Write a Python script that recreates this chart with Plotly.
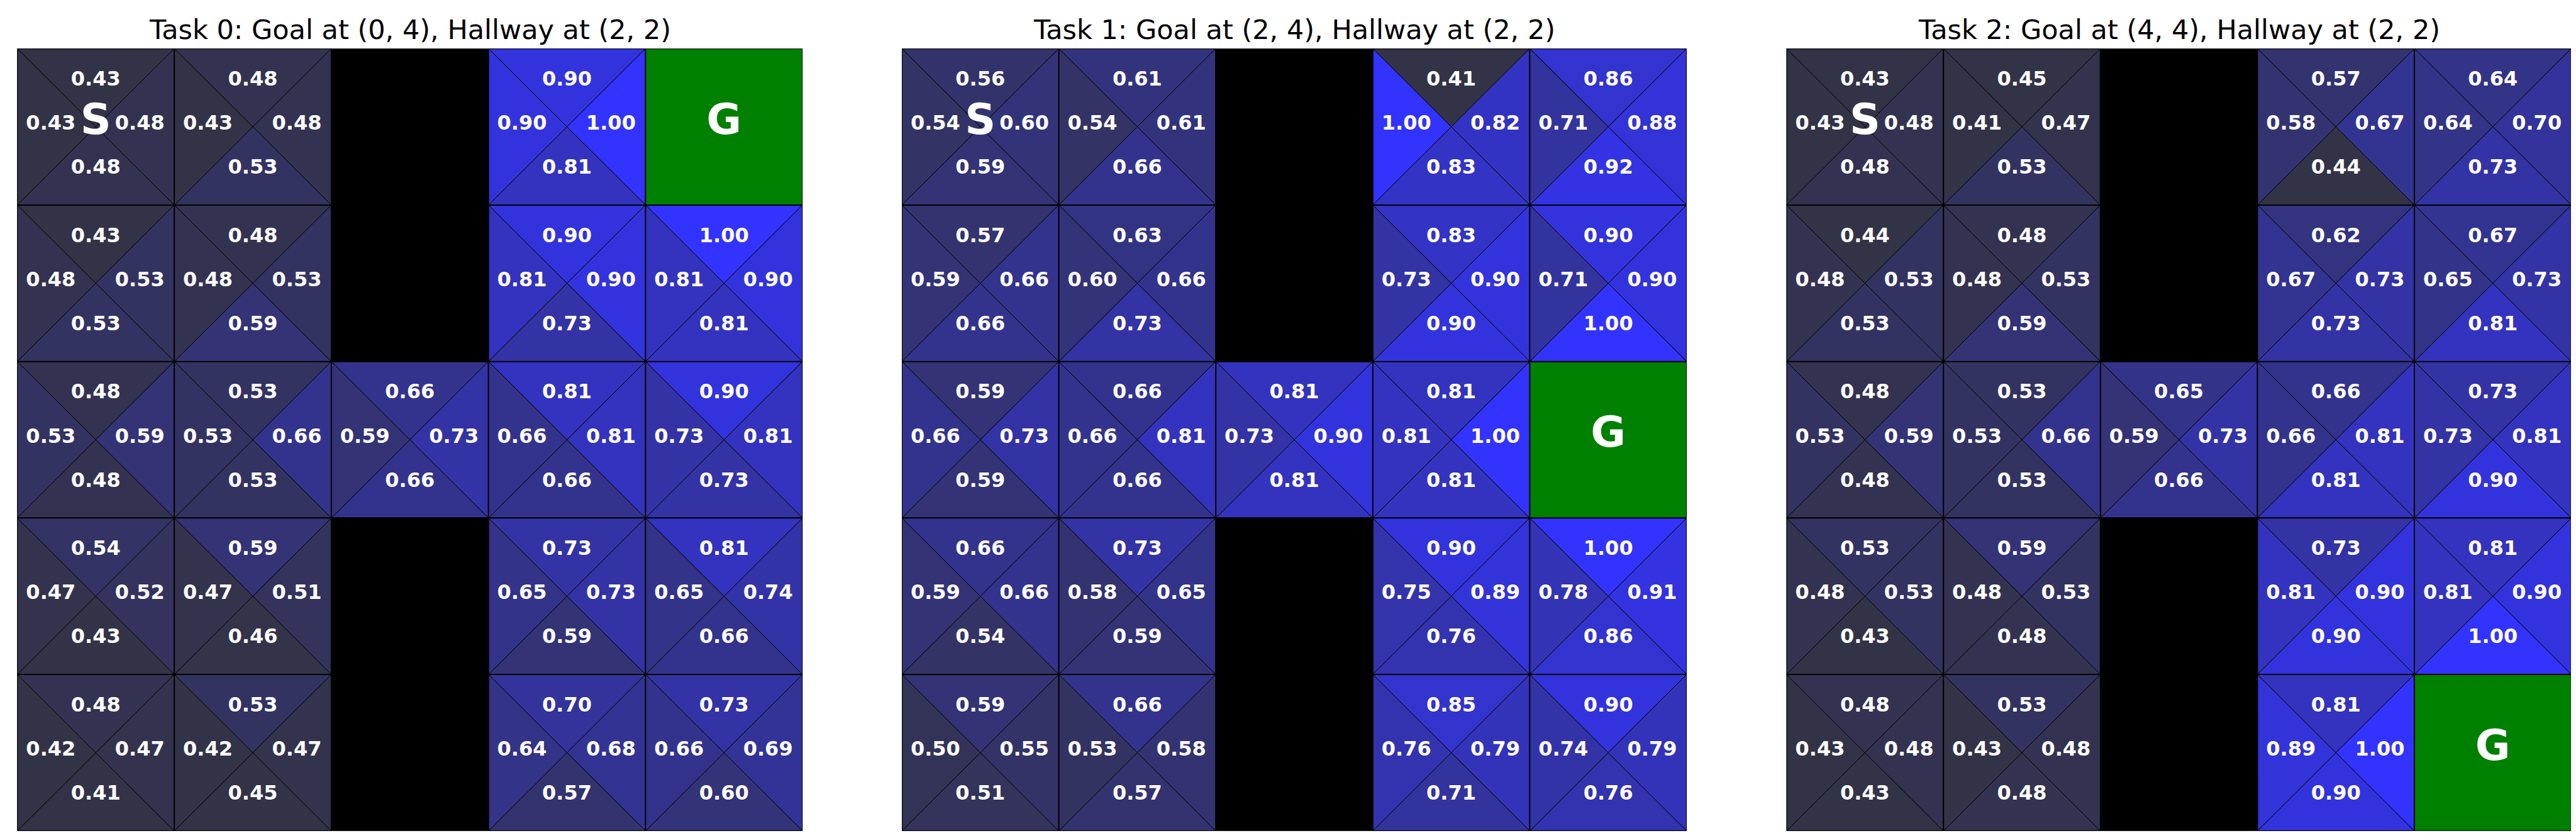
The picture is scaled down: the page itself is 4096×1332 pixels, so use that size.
import plotly.graph_objects as go

# ---------------- data ----------------
TITLES = [
    "Task 0: Goal at (0, 4), Hallway at (2, 2)",
    "Task 1: Goal at (2, 4), Hallway at (2, 2)",
    "Task 2: Goal at (4, 4), Hallway at (2, 2)",
]
WALLS = [(0, 2), (1, 2), (3, 2), (4, 2)]
START = (0, 0)
GOALS = [(0, 4), (2, 4), (4, 4)]

# Task 0 Q-values (rows top->bottom, cols left->right); None = wall / goal
UP0 = [[0.43, 0.48, None, 0.90, None],
       [0.43, 0.48, None, 0.90, 1.00],
       [0.48, 0.53, 0.66, 0.81, 0.90],
       [0.54, 0.59, None, 0.73, 0.81],
       [0.48, 0.53, None, 0.70, 0.73]]
RIGHT0 = [[0.48, 0.48, None, 1.00, None],
          [0.53, 0.53, None, 0.90, 0.90],
          [0.59, 0.66, 0.73, 0.81, 0.81],
          [0.52, 0.51, None, 0.73, 0.74],
          [0.47, 0.47, None, 0.68, 0.69]]
DOWN0 = [[0.48, 0.53, None, 0.81, None],
         [0.53, 0.59, None, 0.73, 0.81],
         [0.48, 0.53, 0.66, 0.66, 0.73],
         [0.43, 0.46, None, 0.59, 0.66],
         [0.41, 0.45, None, 0.57, 0.60]]
LEFT0 = [[0.43, 0.43, None, 0.90, None],
         [0.48, 0.48, None, 0.81, 0.81],
         [0.53, 0.53, 0.59, 0.66, 0.73],
         [0.47, 0.47, None, 0.65, 0.65],
         [0.42, 0.42, None, 0.64, 0.66]]

# Task 1
UP1 = [[0.56, 0.61, None, 0.41, 0.86],
       [0.57, 0.63, None, 0.83, 0.90],
       [0.59, 0.66, 0.81, 0.81, None],
       [0.66, 0.73, None, 0.90, 1.00],
       [0.59, 0.66, None, 0.85, 0.90]]
RIGHT1 = [[0.60, 0.61, None, 0.82, 0.88],
          [0.66, 0.66, None, 0.90, 0.90],
          [0.73, 0.81, 0.90, 1.00, None],
          [0.66, 0.65, None, 0.89, 0.91],
          [0.55, 0.58, None, 0.79, 0.79]]
DOWN1 = [[0.59, 0.66, None, 0.83, 0.92],
         [0.66, 0.73, None, 0.90, 1.00],
         [0.59, 0.66, 0.81, 0.81, None],
         [0.54, 0.59, None, 0.76, 0.86],
         [0.51, 0.57, None, 0.71, 0.76]]
LEFT1 = [[0.54, 0.54, None, 1.00, 0.71],
         [0.59, 0.60, None, 0.73, 0.71],
         [0.66, 0.66, 0.73, 0.81, None],
         [0.59, 0.58, None, 0.75, 0.78],
         [0.50, 0.53, None, 0.76, 0.74]]

# Task 2
UP2 = [[0.43, 0.45, None, 0.57, 0.64],
       [0.44, 0.48, None, 0.62, 0.67],
       [0.48, 0.53, 0.65, 0.66, 0.73],
       [0.53, 0.59, None, 0.73, 0.81],
       [0.48, 0.53, None, 0.81, None]]
RIGHT2 = [[0.48, 0.47, None, 0.67, 0.70],
          [0.53, 0.53, None, 0.73, 0.73],
          [0.59, 0.66, 0.73, 0.81, 0.81],
          [0.53, 0.53, None, 0.90, 0.90],
          [0.48, 0.48, None, 1.00, None]]
DOWN2 = [[0.48, 0.53, None, 0.44, 0.73],
         [0.53, 0.59, None, 0.73, 0.81],
         [0.48, 0.53, 0.66, 0.81, 0.90],
         [0.43, 0.48, None, 0.90, 1.00],
         [0.43, 0.48, None, 0.90, None]]
LEFT2 = [[0.43, 0.41, None, 0.58, 0.64],
         [0.48, 0.48, None, 0.67, 0.65],
         [0.53, 0.53, 0.59, 0.66, 0.73],
         [0.48, 0.48, None, 0.81, 0.81],
         [0.43, 0.43, None, 0.89, None]]

TASKS = [
    (UP0, RIGHT0, DOWN0, LEFT0),
    (UP1, RIGHT1, DOWN1, LEFT1),
    (UP2, RIGHT2, DOWN2, LEFT2),
]

# ---------------- style ----------------
N = 5
LOW_RGB = (51, 51, 71)
HIGH_RGB = (51, 51, 255)
VMIN, VMAX = 0.45, 1.00
WALL_COLOR = "#000000"
GOAL_COLOR = "#008000"
FONT = "DejaVu Sans"

W, H = 4096, 1332
X_DOMAINS = [(0.004736, 0.30960), (0.34814, 0.65283), (0.69155, 0.99624)]
Y_DOMAIN = (0.014414, 0.94805)


def qcolor(v):
    t = (v - VMIN) / (VMAX - VMIN)
    t = max(0.0, min(1.0, t))
    r, g, b = [int(round(lo + (hi - lo) * t)) for lo, hi in zip(LOW_RGB, HIGH_RGB)]
    return f"rgb({r},{g},{b})"


fig = go.Figure()

for k, (up, right, down, left) in enumerate(TASKS):
    xa = "x" if k == 0 else f"x{k + 1}"
    ya = "y" if k == 0 else f"y{k + 1}"
    goal = GOALS[k]

    tx, ty, tt = [], [], []
    for r in range(N):
        for c in range(N):
            if (r, c) in WALLS:
                fig.add_trace(go.Scatter(
                    x=[c, c + 1, c + 1, c, c], y=[r, r, r + 1, r + 1, r],
                    fill="toself", fillcolor=WALL_COLOR, mode="lines",
                    line=dict(color="black", width=0), hoverinfo="skip",
                    xaxis=xa, yaxis=ya))
                continue
            if (r, c) == goal:
                fig.add_trace(go.Scatter(
                    x=[c, c + 1, c + 1, c, c], y=[r, r, r + 1, r + 1, r],
                    fill="toself", fillcolor=GOAL_COLOR, mode="lines",
                    line=dict(color="black", width=0), hoverinfo="skip",
                    xaxis=xa, yaxis=ya))
                continue
            cx, cy = c + 0.5, r + 0.5
            tris = [
                (up[r][c], [c, c + 1, cx, c], [r, r, cy, r]),
                (right[r][c], [c + 1, c + 1, cx, c + 1], [r, r + 1, cy, r]),
                (down[r][c], [c + 1, c, cx, c + 1], [r + 1, r + 1, cy, r + 1]),
                (left[r][c], [c, c, cx, c], [r + 1, r, cy, r + 1]),
            ]
            for v, xs, ys in tris:
                fig.add_trace(go.Scatter(
                    x=xs, y=ys, fill="toself", fillcolor=qcolor(v), mode="lines",
                    line=dict(color="black", width=1), hoverinfo="skip",
                    xaxis=xa, yaxis=ya))
            for v, px, py in [
                (up[r][c], c + 0.5, r + 0.204),
                (down[r][c], c + 0.5, r + 0.768),
                (left[r][c], c + 0.214, r + 0.486),
                (right[r][c], c + 0.78, r + 0.486),
            ]:
                tx.append(px)
                ty.append(py)
                tt.append(f"{v:.2f}")

    # cell grid lines
    gx, gy = [], []
    for i in range(N + 1):
        gx += [0, N, None]
        gy += [i, i, None]
        gx += [i, i, None]
        gy += [0, N, None]
    fig.add_trace(go.Scatter(
        x=gx, y=gy, mode="lines", line=dict(color="black", width=2),
        hoverinfo="skip", xaxis=xa, yaxis=ya))

    fig.add_trace(go.Scatter(
        x=tx, y=ty, text=tt, mode="text", textposition="middle center",
        textfont=dict(family=FONT, size=32, color="white", weight="bold"),
        hoverinfo="skip", xaxis=xa, yaxis=ya))

    fig.add_trace(go.Scatter(
        x=[START[1] + 0.5, goal[1] + 0.5], y=[START[0] + 0.477, goal[0] + 0.477],
        text=["S", "G"], mode="text", textposition="middle center",
        textfont=dict(family=FONT, size=68, color="white", weight="bold"),
        hoverinfo="skip", xaxis=xa, yaxis=ya))

    d = X_DOMAINS[k]
    axis_common = dict(showgrid=False, zeroline=False, showticklabels=False,
                       ticks="", showline=False, fixedrange=True)
    fig.update_layout(**{
        ("xaxis" if k == 0 else f"xaxis{k + 1}"): dict(
            domain=list(d), range=[0, N], anchor=ya, **axis_common),
        ("yaxis" if k == 0 else f"yaxis{k + 1}"): dict(
            domain=list(Y_DOMAIN), range=[N, 0], anchor=xa, **axis_common),
    })
    fig.add_annotation(
        text=TITLES[k], x=(d[0] + d[1]) / 2, y=1 - 39 / H, xref="paper", yref="paper",
        xanchor="center", yanchor="middle", showarrow=False,
        font=dict(family=FONT, size=43, color="black"))

fig.update_layout(
    width=W, height=H, autosize=False,
    margin=dict(l=0, r=0, t=0, b=0),
    paper_bgcolor="white", plot_bgcolor="white",
    showlegend=False,
)

fig.write_html("out.html")
